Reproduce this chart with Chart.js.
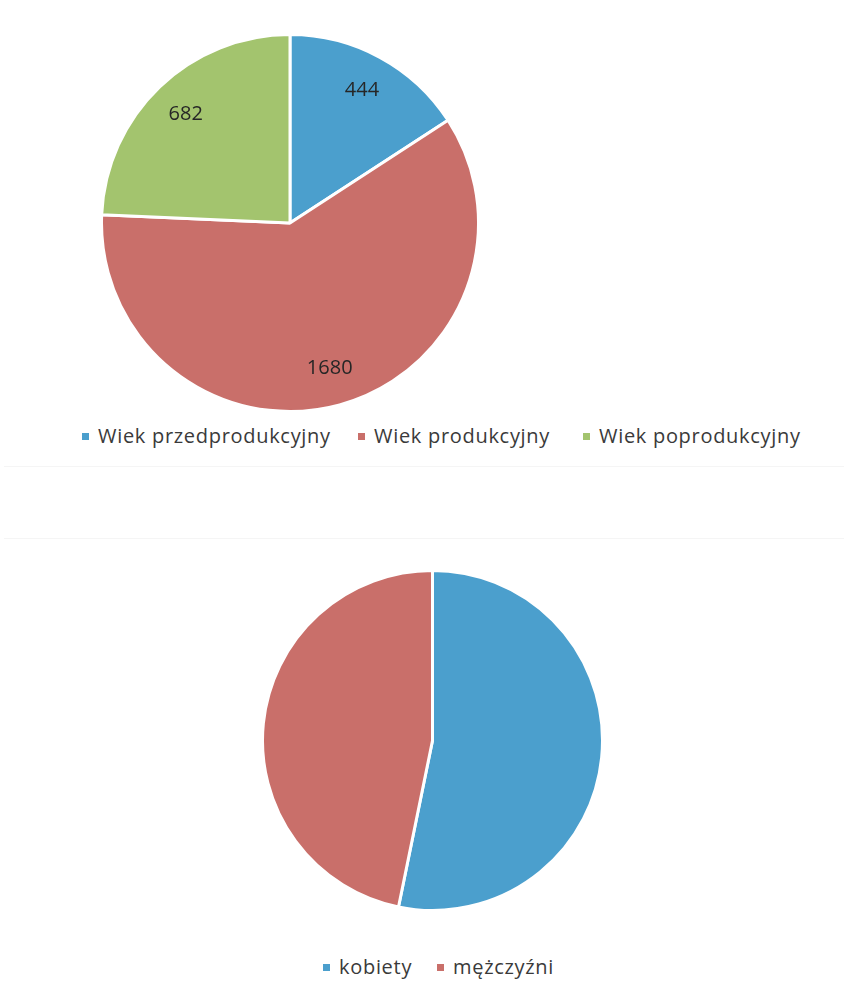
<!DOCTYPE html>
<html>
<head>
<meta charset="utf-8">
<script src="https://cdn.jsdelivr.net/npm/chart.js@4.4.1/dist/chart.umd.min.js"></script>
<style>
  html, body { margin:0; padding:0; background:#fff; width:844px; height:999px; overflow:hidden; }
  body { position:relative; font-family:"Open Sans", "Noto Sans", sans-serif; }
  .cv { position:absolute; }
  .rule { position:absolute; left:4px; right:0; height:0; border-top:1px solid #f5f5f5; }
  .leg { position:absolute; font-size:20px; letter-spacing:0.7px; color:#3a3a3a; white-space:nowrap; line-height:22px; }
  .leg .sw { position:absolute; width:7px; height:7px; top:8px; }
  .leg .tx { position:absolute; left:16px; top:0; }
</style>
</head>
<body>
<div class="cv" style="left:100px;top:33px;width:380px;height:380px;"><canvas id="c1"></canvas></div>
<div class="cv" style="left:261px;top:569px;width:343px;height:343px;"><canvas id="c2"></canvas></div>
<div class="rule" style="top:466px;"></div>
<div class="rule" style="top:538px;"></div>
<div id="leg1"></div>
<div id="leg2"></div>
<script>
// ---- data ----
const ageCategories = ["Wiek przedprodukcyjny", "Wiek produkcyjny", "Wiek poprodukcyjny"];
const ageValues = [444, 1680, 682];
const sexCategories = ["kobiety", "mężczyźni"];
const sexValues = [1493, 1313];

const ageColors = ["#4b9fcd", "#c96f6a", "#a3c46e"];
const sexColors = ["#4b9fcd", "#c96f6a"];

const valueLabels = {
  id: 'valueLabels',
  afterDatasetsDraw(chart, args, opts) {
    if (!opts.show) return;
    const ctx = chart.ctx;
    const meta = chart.getDatasetMeta(0);
    ctx.save();
    ctx.font = '20px "Open Sans", sans-serif';
    ctx.fillStyle = '#262626';
    ctx.textAlign = 'center';
    ctx.textBaseline = 'middle';
    meta.data.forEach((arc, i) => {
      const p = arc.getProps(['x','y','startAngle','endAngle','outerRadius'], true);
      const mid = (p.startAngle + p.endAngle) / 2;
      const r = p.outerRadius * 0.8;
      ctx.fillText(String(chart.data.datasets[0].data[i]), p.x + Math.cos(mid) * r, p.y + Math.sin(mid) * r);
    });
    ctx.restore();
  }
};

function makePie(id, labels, values, colors, showLabels) {
  return new Chart(document.getElementById(id), {
    type: 'pie',
    data: { labels: labels, datasets: [{ data: values, backgroundColor: colors, borderColor: '#ffffff', borderWidth: 3 }] },
    options: {
      responsive: true, maintainAspectRatio: false, animation: false,
      layout: { padding: 0 },
      plugins: { legend: { display: false }, tooltip: { enabled: false }, valueLabels: { show: showLabels } }
    },
    plugins: [valueLabels]
  });
}

makePie('c1', ageCategories, ageValues, ageColors, true);
makePie('c2', sexCategories, sexValues, sexColors, false);

function makeLegend(elId, labels, colors, xs, y) {
  const host = document.getElementById(elId);
  labels.forEach((lab, i) => {
    const d = document.createElement('div');
    d.className = 'leg';
    d.style.left = xs[i] + 'px';
    d.style.top = y + 'px';
    d.innerHTML = '<span class="sw" style="background:' + colors[i] + '"></span><span class="tx"></span>';
    d.querySelector('.tx').textContent = lab;
    host.appendChild(d);
  });
}
makeLegend('leg1', ageCategories, ageColors, [82, 358, 583], 425);
makeLegend('leg2', sexCategories, sexColors, [323, 437], 956);
</script>
</body>
</html>
